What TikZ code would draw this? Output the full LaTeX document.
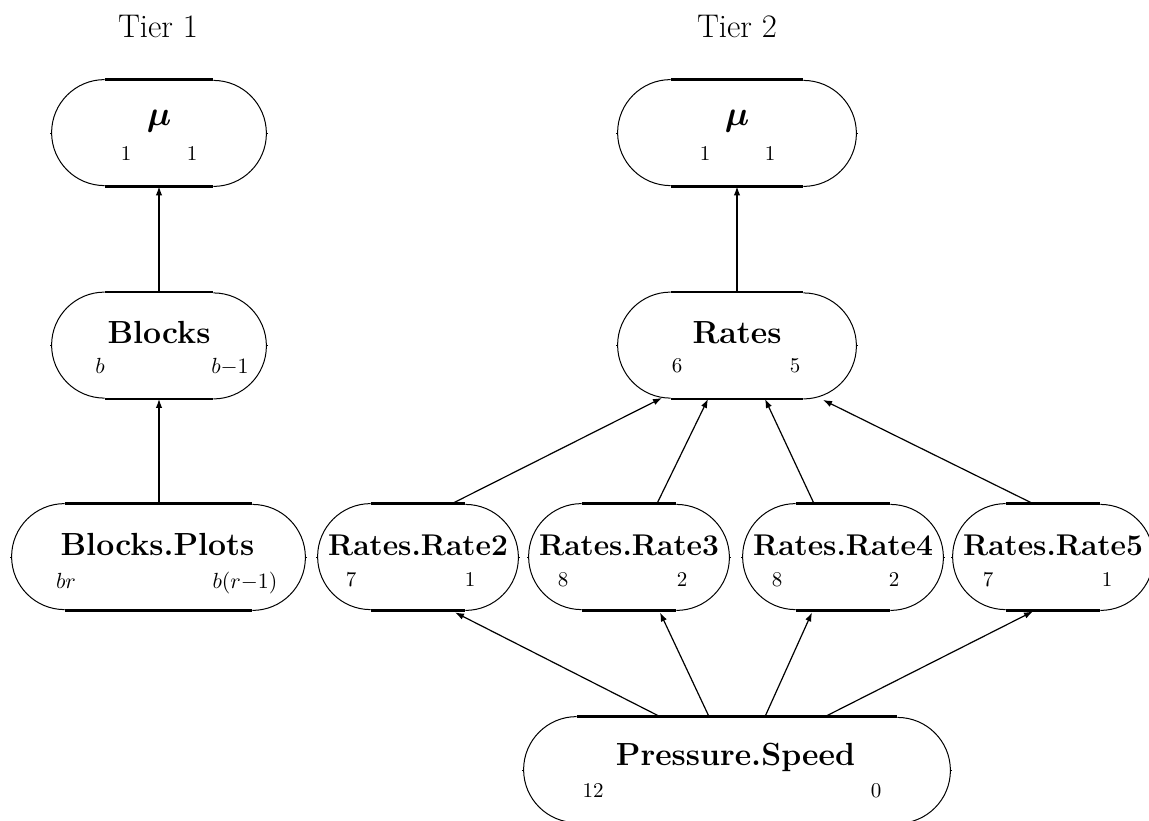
\documentclass[tikz,border=0pt]{standalone}
\usepackage{bm}
\usetikzlibrary{calc,arrows.meta}
\tikzset{
  stadbox/.style={rectangle, draw=none, minimum height=53pt, inner sep=0pt},
  arcline/.style={line width=0.5pt},
  edgeline/.style={line width=1.3pt},
  titletext/.style={anchor=base, inner sep=0pt, font=\fontsize{16}{19}\selectfont\bfseries},
  ratetext/.style={anchor=base, inner sep=0pt, font=\fontsize{15}{18}\selectfont\bfseries},
  tiertext/.style={anchor=base, inner sep=0pt, font=\fontsize{16.4}{19}\selectfont},
  numtext/.style={anchor=base, inner sep=0pt, font=\fontsize{10.5}{12}\selectfont},
  conn/.style={line width=0.6pt, -{Latex[length=4.5pt,width=3.2pt]}}
}
\newcommand\stadium[4]{%
  \node[stadbox, minimum width=#4] (#1) at (#2,#3) {};
  \draw[arcline] ($(#1.north west)+(26.5pt,0)$) arc[start angle=90, end angle=270, radius=26.5pt];
  \draw[arcline] ($(#1.south east)+(-26.5pt,0)$) arc[start angle=-90, end angle=90, radius=26.5pt];
  \draw[edgeline] ($(#1.north west)+(26.5pt,0)$) -- ($(#1.north east)+(-26.5pt,0)$);
  \draw[edgeline] ($(#1.south west)+(26.5pt,0)$) -- ($(#1.south east)+(-26.5pt,0)$);
  \draw[arcline] (#1.west) -- +(-0.8pt,0);
  \draw[arcline] (#1.east) -- +(0.8pt,0);
}
\begin{document}
\begin{tikzpicture}[x=0.5pt,y=0.5pt]
\useasboundingbox (0,0) rectangle (1149,-820);

% tier labels
\node[tiertext] (t1) at (158,-37) {Tier 1};
\node[tiertext] (t2) at (737,-37) {Tier 2};

% Tier 1
\stadium{muA}{159}{-133}{107pt}
\node[titletext] (muAt) at (159,-125) {$\bm{\mu}$};
\node[numtext] (muAl) at (126,-160) {1};
\node[numtext] (muAr) at (192,-160) {1};

\stadium{blocks}{159}{-345.5}{107pt}
\node[titletext] (blockst) at (159,-343) {Blocks};
\node[numtext] (blocksl) at (100,-373) {$b$};
\node[numtext] (blocksr) at (230,-373) {$b{-}1$};

\stadium{plots}{158.5}{-557}{146.5pt}
\node[titletext] (plotst) at (157.5,-555) {Blocks.Plots};
\node[numtext] (plotsl) at (66,-588) {$br$};
\node[numtext] (plotsr) at (245,-588) {$b(r{-}1)$};

% Tier 2
\stadium{muB}{737}{-133}{119pt}
\node[titletext] (muBt) at (737,-125) {$\bm{\mu}$};
\node[numtext] (muBl) at (705,-160) {1};
\node[numtext] (muBr) at (770,-160) {1};

\stadium{rates}{737}{-345.5}{119pt}
\node[titletext] (ratest) at (737,-343) {Rates};
\node[numtext] (ratesl) at (677,-372) {6};
\node[numtext] (ratesr) at (795,-372) {5};

\stadium{rtwo}{418}{-557}{100pt}
\node[ratetext] (rtwot) at (418,-555) {Rates.Rate2};
\node[numtext] (rtwol) at (351,-586) {7};
\node[numtext] (rtwor) at (470,-586) {1};

\stadium{rthree}{629}{-557}{100pt}
\node[ratetext] (rthreet) at (629,-555) {Rates.Rate3};
\node[numtext] (rthreel) at (563,-586) {8};
\node[numtext] (rthreer) at (682,-586) {2};

\stadium{rfour}{843}{-557}{100pt}
\node[ratetext] (rfourt) at (843,-555) {Rates.Rate4};
\node[numtext] (rfourl) at (777,-586) {8};
\node[numtext] (rfourr) at (894,-586) {2};

\stadium{rfive}{1053}{-557}{100pt}
\node[ratetext] (rfivet) at (1053,-555) {Rates.Rate5};
\node[numtext] (rfivel) at (988,-586) {7};
\node[numtext] (rfiver) at (1107,-586) {1};

\stadium{ps}{737}{-770}{213pt}
\node[titletext] (pst) at (735.5,-765) {Pressure.Speed};
\node[numtext] (psl) at (593,-797) {12};
\node[numtext] (psr) at (876,-797) {0};

% connectors
\draw[conn] (blocks.north) -- (muA.south);
\draw[conn] (blocks.south |- plots.north) -- (blocks.south);
\draw[conn] (rates.north) -- (muB.south);

\draw[conn] ($(rtwo.north)+(34,0)$) -- ($(rates.south)+(-75,1)$);
\draw[conn] ($(rthree.north)+(28,0)$) -- ($(rates.south)+(-29,0)$);
\draw[conn] ($(rfour.north)+(-29,0)$) -- ($(rates.south)+(28,0)$);
\draw[conn] ($(rfive.north)+(-20,0)$) -- ($(rates.south)+(86,-1)$);

\draw[conn] ($(ps.north)+(-77,0)$) -- ($(rtwo.south)+(37,-2)$);
\draw[conn] ($(ps.north)+(-28,0)$) -- ($(rthree.south)+(31,-2)$);
\draw[conn] ($(ps.north)+(28,0)$) -- ($(rfour.south)+(-31,-2)$);
\draw[conn] ($(ps.north)+(88,0)$) -- ($(rfive.south)+(-20,-1)$);
\end{tikzpicture}
\end{document}
